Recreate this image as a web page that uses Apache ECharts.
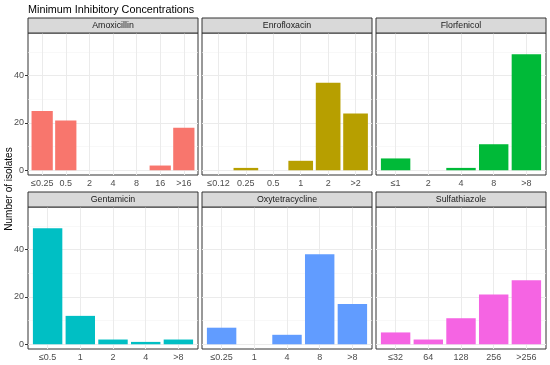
<!DOCTYPE html>
<html>
<head>
<meta charset="utf-8">
<script src="https://cdn.jsdelivr.net/npm/echarts@6/dist/echarts.min.js"></script>
<style>
html,body{margin:0;padding:0;background:#fff;}
#c{width:550px;height:365px;}
</style>
</head>
<body>
<div id="c"></div>
<script>
// ---- data ----
const titleText = "Minimum Inhibitory Concentrations";
const yTitle = "Number of isolates";
const panelNames = ["Amoxicillin", "Enrofloxacin", "Florfenicol", "Gentamicin", "Oxytetracycline", "Sulfathiazole"];
const amoxCats = ["≤0.25", "0.5", "2", "4", "8", "16", ">16"];
const amoxVals = [25, 21, 0, 0, 0, 2, 18];
const enroCats = ["≤0.12", "0.25", "0.5", "1", "2", ">2"];
const enroVals = [0, 1, 0, 4, 37, 24];
const florCats = ["≤1", "2", "4", "8", ">8"];
const florVals = [5, 0, 1, 11, 49];
const gentCats = ["≤0.5", "1", "2", "4", ">8"];
const gentVals = [49, 12, 2, 1, 2];
const oxyCats = ["≤0.25", "1", "4", "8", ">8"];
const oxyVals = [7, 0, 4, 38, 17];
const sulfCats = ["≤32", "64", "128", "256", ">256"];
const sulfVals = [5, 2, 11, 21, 27];
const yTicks = [0, 20, 40];
const yMinor = [10, 30, 50];
const colors = ["#F8766D", "#B79F00", "#00BA38", "#00BFC4", "#619CFF", "#F564E3"];

const cats = [amoxCats, enroCats, florCats, gentCats, oxyCats, sulfCats];
const vals = [amoxVals, enroVals, florVals, gentVals, oxyVals, sulfVals];

// ---- layout ----
const FONT = "Liberation Sans, Arial, sans-serif";
const lefts = [28, 202, 376];
const W = 170;
const tops = [33, 207];
const H = 142;
const stripH = 15;
const Y_MIN = -2, Y_MAX = 58;
const X_PAD = 0.6; // ggplot discrete expansion

const grids = [], xAxes = [], yAxes = [], series = [], graphics = [];
for (let i = 0; i < 6; i++) {
  const col = i % 3, row = Math.floor(i / 3);
  const n = cats[i].length;
  const pos = cats[i].map((c, k) => k + 1);
  grids.push({left: lefts[col], top: tops[row], width: W, height: H,
    show: true, backgroundColor: '#fff', borderColor: '#333333', borderWidth: 1, containLabel: false});
  xAxes.push({type: 'value', gridIndex: i, min: 1 - X_PAD, max: n + X_PAD,
    axisLine: {show: false},
    axisTick: {show: true, customValues: pos, length: 3, lineStyle: {color: '#333333', width: 1}},
    axisLabel: {show: true, customValues: pos, color: '#4D4D4D', fontSize: 9, fontFamily: FONT, margin: 4,
      formatter: (v) => cats[i][Math.round(v) - 1] || ''},
    splitLine: {show: false}});
  yAxes.push({type: 'value', gridIndex: i, min: Y_MIN, max: Y_MAX,
    axisLine: {show: false},
    axisTick: {show: col === 0, length: 3, customValues: yTicks, lineStyle: {color: '#333333'}},
    axisLabel: {show: col === 0, customValues: yTicks, color: '#4D4D4D', fontSize: 9, fontFamily: FONT, margin: 4},
    splitLine: {show: false}});
  const ml = [];
  yMinor.forEach(v => ml.push({yAxis: v, lineStyle: {color: '#F4F4F4', width: 0.6, type: 'solid'}}));
  yTicks.forEach(v => ml.push({yAxis: v, lineStyle: {color: '#EBEBEB', width: 1, type: 'solid'}}));
  pos.forEach(p => ml.push({xAxis: p, lineStyle: {color: '#EBEBEB', width: 1, type: 'solid'}}));
  series.push({type: 'bar', xAxisIndex: i, yAxisIndex: i,
    data: vals[i].map((v, k) => [pos[k], v]),
    barWidth: '90%', itemStyle: {color: colors[i]}, z: 3, silent: true,
    markLine: {silent: true, symbol: 'none', z: 1, label: {show: false}, animation: false, data: ml}});
  graphics.push({type: 'rect', shape: {x: lefts[col], y: tops[row] - stripH, width: W, height: stripH},
    style: {fill: '#D9D9D9', stroke: '#333333', lineWidth: 1}, z: 10});
  graphics.push({type: 'text', x: lefts[col] + W / 2, y: tops[row] - stripH / 2 + 0.5,
    style: {text: panelNames[i], fill: '#1A1A1A', fontSize: 8.8, fontFamily: FONT, align: 'center', verticalAlign: 'middle'}, z: 11});
}
graphics.push({type: 'text', x: 9, y: 189, rotation: Math.PI / 2,
  style: {text: yTitle, fill: '#000', fontSize: 10, fontFamily: FONT, align: 'center', verticalAlign: 'middle'}});

const chart = echarts.init(document.getElementById('c'), null, {renderer: 'canvas'});
chart.setOption({
  animation: false,
  backgroundColor: '#fff',
  title: {text: titleText, left: 28, top: 4.5, padding: 0,
    textStyle: {fontSize: 10.8, fontWeight: 'normal', color: '#000', fontFamily: FONT}},
  grid: grids, xAxis: xAxes, yAxis: yAxes, series: series, graphic: graphics
});
</script>
</body>
</html>
